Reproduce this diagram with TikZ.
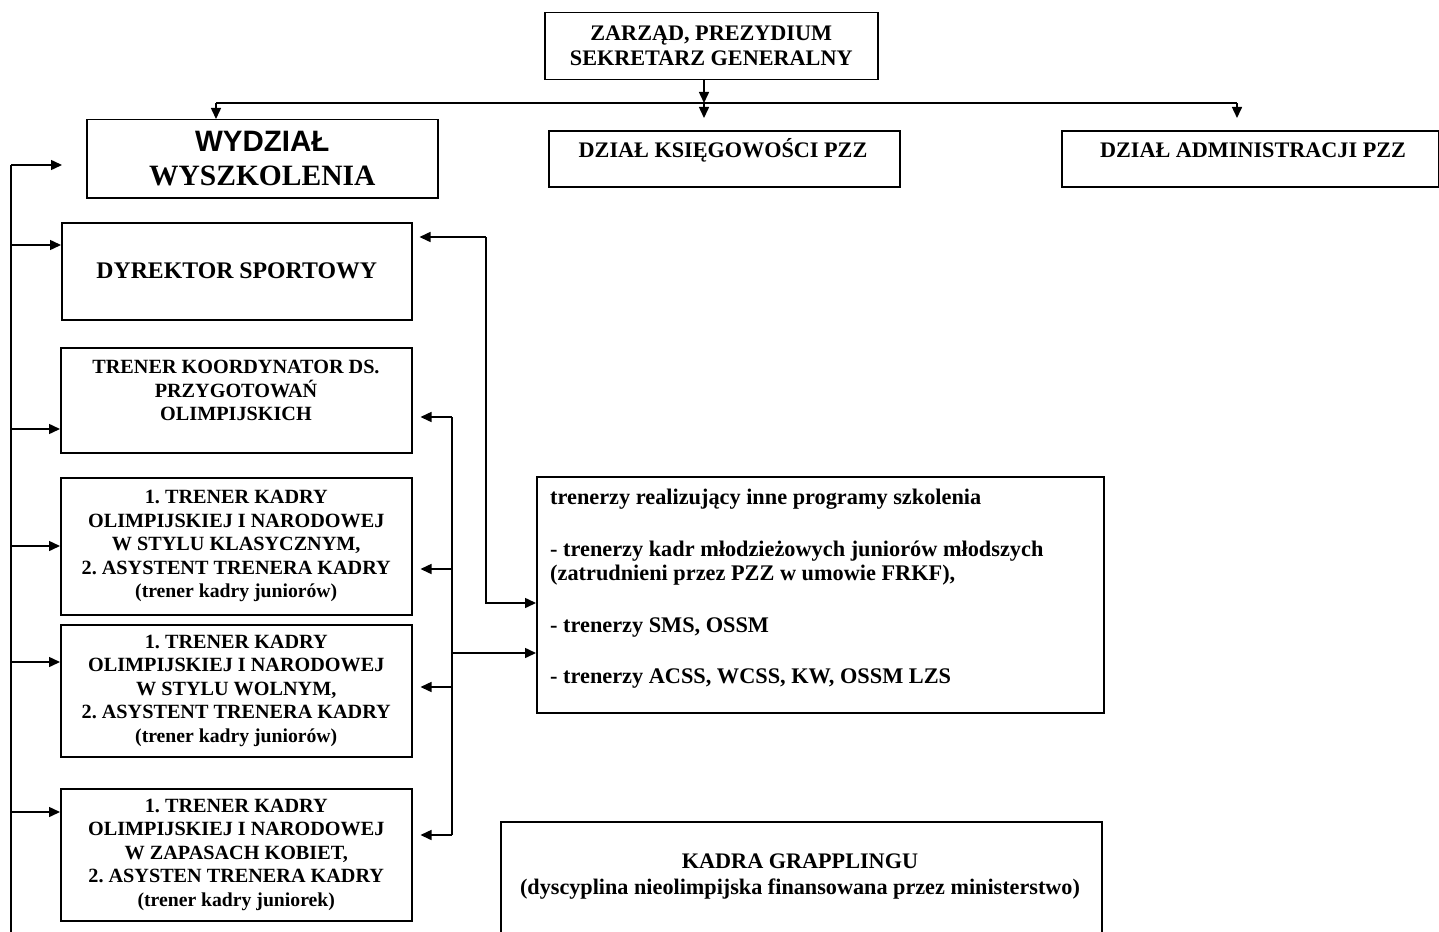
\documentclass[tikz,border=0pt]{standalone}
\usepackage{fontspec}
\setmainfont{Liberation Serif}
\newfontfamily\arialfont{Liberation Sans}
\usetikzlibrary{arrows.meta}
\frenchspacing
\begin{document}
\begin{tikzpicture}[x=1pt,y=-1pt,
  box/.style={draw, line width=1.5pt, inner sep=0pt, anchor=north west, align=center},
  capsf/.style={font=\bfseries\fontsize{20.2}{23.5}\selectfont},
  headf/.style={font=\bfseries\fontsize{22.2}{25}\selectfont},
  conn/.style={line width=1.5pt},
  arr/.style={conn, -{Triangle[length=11pt,width=10pt]}}]
\useasboundingbox (0,0) rectangle (1439,931);

% boxes
\node[box, headf, minimum width=333pt, minimum height=67pt] (zarzad) at (544,12) {ZARZĄD, PREZYDIUM\\SEKRETARZ GENERALNY};
\node[box, minimum width=351pt, minimum height=78pt, font=\bfseries\fontsize{29.5}{34}\selectfont] (wyd) at (86,119) {{\arialfont WYDZIAŁ}\\WYSZKOLENIA};
\node[box, minimum width=351pt, minimum height=56pt] (ksieg) at (548,130) {};
\node[headf] (ksiegT) at (723,150) {DZIAŁ KSIĘGOWOŚCI PZZ};
\node[box, minimum width=377pt, minimum height=56pt] (adm) at (1061,130) {};
\node[headf] (admT) at (1253,150) {DZIAŁ ADMINISTRACJI PZZ};

\node[box, minimum width=350pt, minimum height=97pt, font=\bfseries\fontsize{23.8}{27}\selectfont] (dyr) at (61,222) {DYREKTOR SPORTOWY};
\node[box, minimum width=351pt, minimum height=105pt] (koord) at (60,347) {};
\node[capsf, align=center] (koordT) at (236,390.5) {TRENER KOORDYNATOR DS.\\PRZYGOTOWAŃ\\OLIMPIJSKICH};
\node[box, capsf, minimum width=351pt, minimum height=137pt] (klas) at (60,477) {1. TRENER KADRY\\OLIMPIJSKIEJ I NARODOWEJ\\W STYLU KLASYCZNYM,\\2. ASYSTENT TRENERA KADRY\\{\fontsize{19.7}{23.5}\selectfont (trener kadry juniorów)}};
\node[box, capsf, minimum width=351pt, minimum height=132pt] (woln) at (60,624) {1. TRENER KADRY\\OLIMPIJSKIEJ I NARODOWEJ\\W STYLU WOLNYM,\\2. ASYSTENT TRENERA KADRY\\{\fontsize{19.7}{23.5}\selectfont (trener kadry juniorów)}};
\node[box, capsf, minimum width=351pt, minimum height=132pt] (kob) at (60,788) {1. TRENER KADRY\\OLIMPIJSKIEJ I NARODOWEJ\\W ZAPASACH KOBIET,\\2. ASYSTEN TRENERA KADRY\\{\fontsize{19.7}{23.5}\selectfont (trener kadry juniorek)}};

\node[box, minimum width=567pt, minimum height=236pt] (inne) at (536,476) {};
\node[anchor=north west, align=left, inner sep=0pt, font=\bfseries\fontsize{22.3}{24}\selectfont] (inneT) at (550,489) {trenerzy realizujący inne programy szkolenia\\[28pt]- trenerzy kadr młodzieżowych juniorów młodszych\\(zatrudnieni przez PZZ w umowie FRKF),\\[28pt]- trenerzy SMS, OSSM\\[27pt]- trenerzy ACSS, WCSS, KW, OSSM LZS};

\node[box, minimum width=601pt, minimum height=140pt] (grap) at (500,821) {};
\node[align=center, font=\bfseries\fontsize{22.2}{26}\selectfont] (grapT) at (800,877) {KADRA GRAPPLINGU\\(dyscyplina nieolimpijska finansowana przez ministerstwo)};

% top connectors
\coordinate (tj) at (704,103);
\coordinate (hl) at (216,103);
\coordinate (hr) at (1237,103);
\draw[arr] (zarzad.south -| tj) -- (tj);
\draw[conn] (hl) -- (hr);
\draw[arr] (hl) -- (hl |- wyd.north);
\draw[arr, shorten >=12pt] (tj) -- (tj |- ksieg.north);
\draw[arr, shorten >=12pt] (hr) -- (hr |- adm.north);

% left feeder
\coordinate (lt) at (11,165);
\coordinate (lb) at (11,940);
\draw[conn] (lt) -- (lb);
\draw[arr, shorten >=24pt] (lt) -- (lt -| wyd.west);
\draw[arr] (11,245) -- (11,245 -| dyr.west);
\draw[arr] (11,429) -- (11,429 -| koord.west);
\draw[arr] (11,546) -- (11,546 -| klas.west);
\draw[arr] (11,662) -- (11,662 -| woln.west);
\draw[arr] (11,812) -- (11,812 -| kob.west);

% middle connectors
\draw[arr, shorten >=7pt] (486,237) -- (486,237 -| dyr.east);
\draw[arr] (486,237) -- (486,603) -- (486,603 -| inne.west);
\draw[conn] (452,417) -- (452,835);
\draw[arr, shorten >=8pt] (452,417) -- (452,417 -| koord.east);
\draw[arr, shorten >=8pt] (452,569) -- (452,569 -| klas.east);
\draw[arr, shorten >=8pt] (452,687) -- (452,687 -| woln.east);
\draw[arr, shorten >=8pt] (452,835) -- (452,835 -| kob.east);
\draw[arr] (452,653) -- (452,653 -| inne.west);
\end{tikzpicture}
\end{document}
